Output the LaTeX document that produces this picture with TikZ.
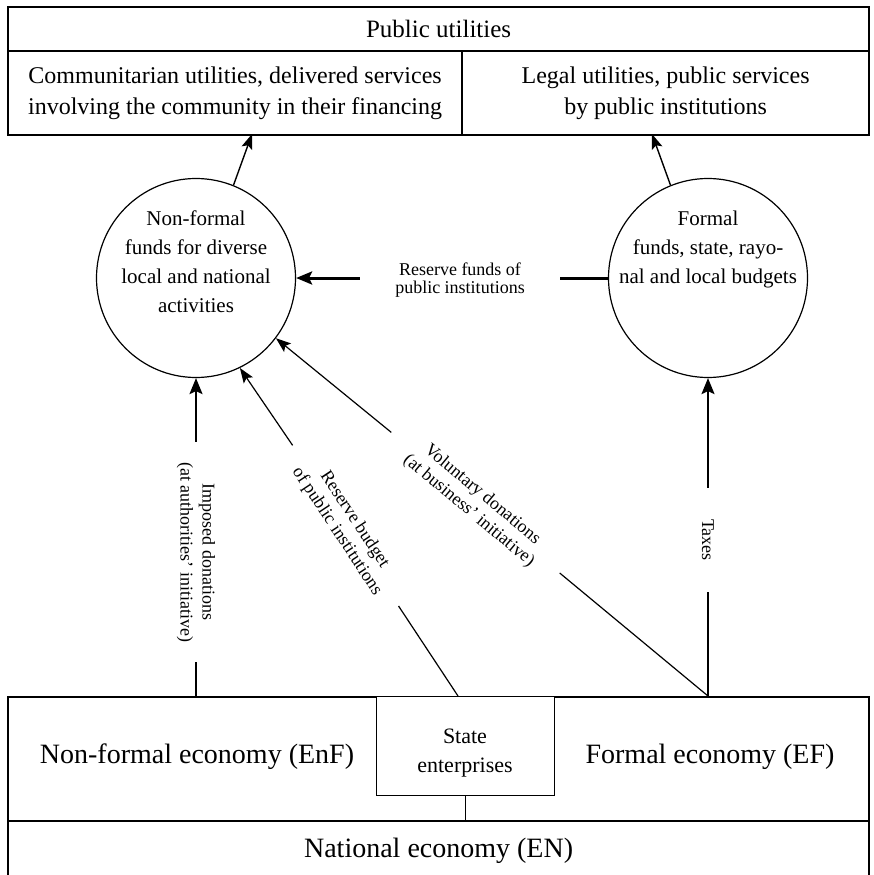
\documentclass[tikz,border=0pt]{standalone}
\usepackage{fontspec}
\setmainfont{Liberation Serif}
\usetikzlibrary{arrows.meta,calc}
\begin{document}
\begin{tikzpicture}[x=1pt,y=-1pt,
  box/.style={draw, line width=2.2pt, inner sep=0pt, anchor=north west, align=center},
  fund/.style={circle, draw, line width=1.2pt, minimum size=199pt, inner sep=0pt},
  circtext/.style={inner sep=0pt, align=center, anchor=north, font=\fontsize{21}{29}\selectfont},
  lbl/.style={inner sep=0pt, align=center, font=\fontsize{18}{21}\selectfont},
  arr/.style={-{Stealth[length=16pt,width=13pt,inset=3pt]}},
  thinarr/.style={-{Stealth[length=15pt,width=11pt,inset=3pt]}},
  thinline/.style={line width=1.2pt},
  midline/.style={line width=2pt},
  heavyline/.style={line width=3pt},
]
\useasboundingbox (0,0) rectangle (874,875);

% top boxes
\node[box, minimum width=861pt, minimum height=44pt, font=\fontsize{25}{30}\selectfont] (pu) at (7,6) {Public utilities};
\node[box, minimum width=454pt, minimum height=84pt, font=\fontsize{24}{31}\selectfont] (cu) at (7,50) {Communitarian utilities, delivered services\\involving the community in their financing};
\node[box, minimum width=407pt, minimum height=84pt, font=\fontsize{24}{31}\selectfont] (lu) at (461,50) {Legal utilities, public services\\by public institutions};

% funds
\node[fund] (nf) at (196,278) {};
\node[fund] (fc) at (708,278) {};
\node[circtext] (nft) at (196,211) {Non-formal\\funds for diverse\\local and national\\activities};
\node[circtext] (fct) at (708,211) {Formal\\funds, state, rayo-\\nal and local budgets};

% bottom boxes
\node[draw, line width=2.2pt, minimum width=861pt, minimum height=124pt, anchor=north west, inner sep=0pt] (econ) at (7,696) {};
\node[font=\fontsize{28}{30}\selectfont, inner sep=0pt] (enf) at (197,757) {Non-formal economy (EnF)};
\node[font=\fontsize{28}{30}\selectfont, inner sep=0pt] (ef) at (710,757) {Formal economy (EF)};
\node[draw, line width=1.2pt, fill=white, minimum width=178pt, minimum height=99pt, anchor=north west, inner sep=0pt] (se) at (376,696) {};
\node[inner sep=0pt, align=center, font=\fontsize{22}{29}\selectfont] (set) at (465,753) {State\\enterprises};
\node[draw, line width=2.2pt, minimum width=861pt, minimum height=60pt, anchor=north west, inner sep=0pt, font=\fontsize{28}{30}\selectfont] (ne) at (7,820) {National economy (EN)};

% labels on connectors
\node[lbl, font=\fontsize{18}{18}\selectfont, minimum width=200pt] (rf) at (460,280) {Reserve funds of\\public institutions};
\node[lbl, rotate=-90, minimum width=220pt, font=\fontsize{18}{22}\selectfont] (imp) at (196,552) {Imposed donations\\(at authorities’ initiative)};
\node[lbl, rotate=-56.6, minimum width=192pt] (rb) at (345.6,525.7) {Reserve budget\\of public institutions};
\node[lbl, rotate=-39.86, minimum width=219pt] (vd) at (475.5,502.7) {Voluntary donations\\(at business’ initiative)};
\node[lbl, rotate=-90, minimum width=104pt] (tx) at (708,540) {Taxes};

\coordinate (cuin) at (252,134);
\coordinate (luin) at (652,134);
\coordinate (rbfoot) at (458,696);
\coordinate (foot) at (708,696);

% connectors
\draw[line width=1.4pt, thinarr] (nf.68.5) -- (cuin);
\draw[line width=1.4pt, thinarr] (fc.112.4) -- (luin);

\draw[heavyline] (fc.west) -- (fc.west -| rf.east);
\draw[heavyline, arr] (nf.east -| rf.west) -- (nf.east);

\draw[midline] (econ.north -| imp.east) -- (imp.east);
\draw[midline, arr] (imp.west) -- (nf.south);

\draw[thinline] (rbfoot) -- (rb.east);
\draw[thinline, thinarr] (rb.west) -- (nf.296.8);

\draw[thinline] (foot) -- (vd.east);
\draw[thinline, thinarr] (vd.west) -- (nf.323.9);

\draw[midline] (foot) -- (tx.east);
\draw[midline, arr] (tx.west) -- (fc.south);

\draw[line width=1.5pt] (se.south) -- (se.south |- ne.north);
\end{tikzpicture}
\end{document}
